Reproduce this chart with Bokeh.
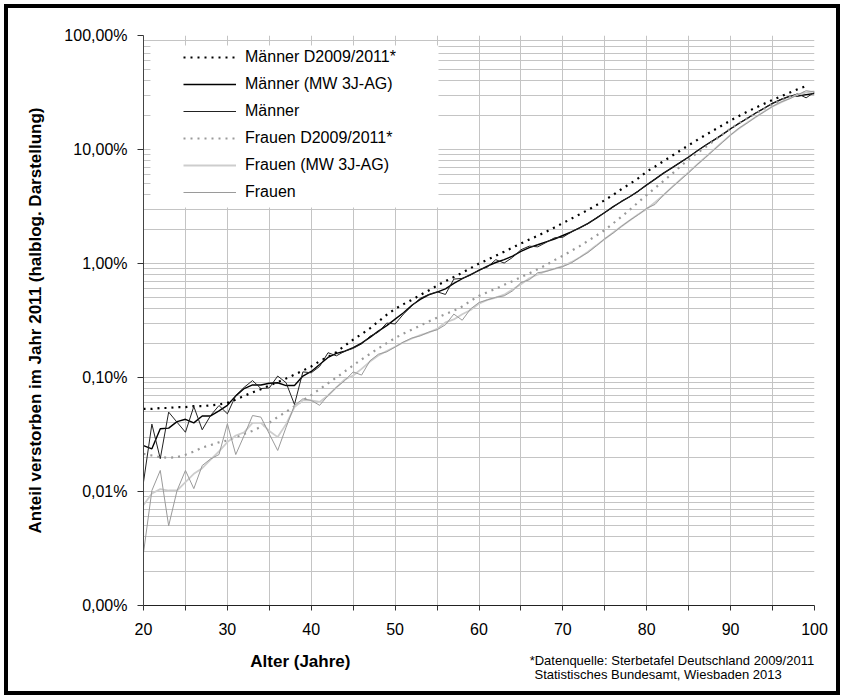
from bokeh.plotting import figure
from bokeh.models import FixedTicker, Legend, LegendItem, BoxAnnotation, LinearAxis
from bokeh.embed import file_html
from bokeh.resources import INLINE

ages = list(range(20, 101))
ages_tafel = list(range(20, 100))

maenner_tafel = [0.053, 0.053, 0.054, 0.054, 0.055, 0.055, 0.056, 0.056, 0.057, 0.058,
                 0.060, 0.064, 0.069, 0.074, 0.079, 0.085, 0.091, 0.098, 0.106, 0.115,
                 0.125, 0.139, 0.152, 0.167, 0.190, 0.215, 0.240, 0.270, 0.310, 0.355,
                 0.400, 0.440, 0.480, 0.530, 0.580, 0.640, 0.700, 0.760, 0.830, 0.910,
                 1.000, 1.080, 1.170, 1.270, 1.380, 1.500, 1.620, 1.750, 1.900, 2.070,
                 2.260, 2.470, 2.700, 2.950, 3.250, 3.600, 4.000, 4.500, 5.000, 5.600,
                 6.400, 7.100, 7.900, 8.800, 9.800, 10.90, 12.10, 13.40, 14.80, 16.30,
                 18.00, 19.70, 21.50, 23.30, 25.20, 27.20, 29.30, 31.50, 33.80, 36.00]

maenner_mw = [0.0253, 0.0237, 0.0355, 0.036, 0.041, 0.043, 0.040, 0.046, 0.046, 0.051,
              0.057, 0.069, 0.080, 0.086, 0.086, 0.089, 0.090, 0.085, 0.085, 0.103,
              0.113, 0.130, 0.150, 0.163, 0.170, 0.183, 0.200, 0.225, 0.255, 0.285,
              0.325, 0.370, 0.430, 0.485, 0.530, 0.560, 0.600, 0.670, 0.735, 0.800,
              0.870, 0.950, 1.020, 1.080, 1.160, 1.280, 1.380, 1.460, 1.550, 1.640,
              1.760, 1.890, 2.050, 2.250, 2.500, 2.800, 3.150, 3.500, 3.870, 4.320,
              4.900, 5.500, 6.200, 6.900, 7.700, 8.600, 9.700, 10.90, 12.10, 13.50,
              15.20, 16.90, 18.80, 20.90, 23.00, 25.40, 27.40, 29.20, 29.50, 30.30,
              31.00]

maenner = [0.0121, 0.039, 0.0194, 0.0497, 0.0405, 0.0331, 0.0557, 0.0348, 0.0464, 0.0568,
           0.048, 0.0695, 0.082, 0.094, 0.080, 0.081, 0.103, 0.090, 0.058, 0.112,
           0.110, 0.125, 0.165, 0.155, 0.170, 0.180, 0.197, 0.230, 0.250, 0.300,
           0.295, 0.360, 0.425, 0.495, 0.535, 0.565, 0.535, 0.730, 0.740, 0.790,
           0.880, 0.930, 1.080, 1.010, 1.130, 1.320, 1.420, 1.400, 1.530, 1.680,
           1.700, 1.890, 2.060, 2.230, 2.520, 2.800, 3.130, 3.520, 3.850, 4.320,
           4.880, 5.520, 6.180, 6.920, 7.680, 8.600, 9.720, 10.85, 12.15, 13.40,
           15.20, 17.10, 18.70, 20.90, 23.10, 25.40, 27.60, 29.20, 30.80, 28.40,
           31.80]

frauen_tafel = [0.0214, 0.0207, 0.0200, 0.0198, 0.0200, 0.0210, 0.0224, 0.0243, 0.0255, 0.0270,
                0.0280, 0.0300, 0.0320, 0.0340, 0.0370, 0.0400, 0.0450, 0.0500, 0.0560, 0.0630,
                0.070, 0.079, 0.089, 0.100, 0.113, 0.128, 0.144, 0.161, 0.180, 0.200,
                0.222, 0.243, 0.263, 0.285, 0.310, 0.335, 0.360, 0.385, 0.420, 0.470,
                0.520, 0.560, 0.600, 0.650, 0.700, 0.760, 0.820, 0.890, 0.970, 1.070,
                1.170, 1.290, 1.420, 1.580, 1.760, 1.970, 2.250, 2.580, 2.970, 3.450,
                4.000, 4.600, 5.300, 6.100, 7.100, 8.200, 9.300, 10.50, 11.90, 13.50,
                15.30, 17.00, 18.80, 20.70, 22.80, 25.00, 27.00, 28.80, 30.40, 31.80]

frauen_mw = [0.0076, 0.0096, 0.0105, 0.0102, 0.0102, 0.0121, 0.0143, 0.016, 0.019, 0.0225,
             0.0271, 0.031, 0.033, 0.040, 0.040, 0.034, 0.030, 0.039, 0.055, 0.063,
             0.063, 0.061, 0.0695, 0.082, 0.096, 0.104, 0.119, 0.138, 0.156, 0.171,
             0.186, 0.204, 0.220, 0.235, 0.248, 0.267, 0.304, 0.323, 0.359, 0.391,
             0.445, 0.480, 0.502, 0.533, 0.592, 0.658, 0.743, 0.800, 0.860, 0.897,
             0.950, 1.027, 1.130, 1.270, 1.443, 1.643, 1.873, 2.123, 2.400, 2.710,
             3.010, 3.450, 3.983, 4.683, 5.433, 6.333, 7.367, 8.583, 9.967, 11.60,
             13.43, 15.30, 17.27, 19.27, 21.53, 23.80, 25.93, 28.03, 30.27, 31.67,
             32.40]

frauen = [0.0029, 0.0102, 0.0153, 0.0050, 0.0102, 0.0153, 0.0106, 0.0169, 0.0193, 0.0211,
          0.0393, 0.0211, 0.031, 0.0464, 0.0449, 0.032, 0.0229, 0.0366, 0.0568, 0.065,
          0.063, 0.057, 0.0695, 0.082, 0.094, 0.112, 0.105, 0.140, 0.160, 0.168,
          0.185, 0.205, 0.222, 0.232, 0.250, 0.262, 0.290, 0.360, 0.318, 0.400,
          0.455, 0.480, 0.505, 0.520, 0.575, 0.680, 0.720, 0.830, 0.850, 0.900,
          0.940, 1.010, 1.130, 1.250, 1.430, 1.650, 1.850, 2.120, 2.400, 2.680,
          3.050, 3.300, 4.000, 4.650, 5.400, 6.250, 7.350, 8.500, 9.900, 11.50,
          13.40, 15.40, 17.10, 19.30, 21.40, 23.90, 26.10, 27.80, 30.20, 32.80,
          32.00]

y_ticks = [0.001, 0.01, 0.1, 1, 10, 100]
y_tick_labels = ["0,00%", "0,01%", "0,10%", "1,00%", "10,00%", "100,00%"]
x_ticks = list(range(20, 101, 5))
x_tick_labels = [str(t) if t % 10 == 0 else "" for t in x_ticks]

x_title = "Alter (Jahre)"
y_title = "Anteil verstorben im Jahr 2011 (halblog. Darstellung)"
source_line1 = "*Datenquelle: Sterbetafel Deutschland 2009/2011"
source_line2 = "Statistisches Bundesamt, Wiesbaden 2013"

FONT = "Liberation Sans"
GRID = "#c4c4c4"

p = figure(width=844, height=699, frame_width=671, frame_height=570,
           min_border_left=143, min_border_right=30, min_border_top=35, min_border_bottom=94,
           x_range=(20, 100), y_range=(0.001, 100), y_axis_type="log",
           output_backend="svg", toolbar_location=None)
p.outline_line_color = None
p.background_fill_color = "white"
p.border_fill_color = "white"
p.border_fill_alpha = 0
# black picture frame around the whole chart (shows through the transparent border area)
p.styles = {"background-color": "white",
            "box-shadow": "inset 0 0 0 4px white, inset 0 0 0 8px black"}

xax = p.xaxis[0]
yax = p.yaxis[0]

minor = [m * 10.0 ** e for e in range(-3, 2) for m in range(2, 10)]
yax.ticker = FixedTicker(ticks=y_ticks, minor_ticks=minor)
yax.major_label_overrides = dict(zip(y_ticks, y_tick_labels))
xax.ticker = FixedTicker(ticks=x_ticks)
xax.major_label_overrides = dict(zip(x_ticks, x_tick_labels))

for ax in (xax, yax):
    ax.major_label_text_font = FONT
    ax.major_label_text_font_size = "16px"
    ax.major_label_text_color = "black"
    ax.minor_tick_line_color = None
    ax.major_tick_in = 0
    ax.major_tick_line_color = "#333333"
yax.major_tick_out = 6
yax.major_label_standoff = 10
yax.axis_line_color = "#444444"
xax.major_tick_out = 5
xax.major_label_standoff = 12
xax.axis_line_color = "#222222"

yax.axis_label = y_title
yax.axis_label_text_font = FONT
yax.axis_label_text_font_style = "bold"
yax.axis_label_text_font_size = "17px"
yax.axis_label_text_color = "black"
yax.axis_label_standoff = 16

p.xgrid.grid_line_color = GRID
p.ygrid.grid_line_color = GRID
p.ygrid.minor_grid_line_color = GRID


def text_axis(tick, text, size, style, standoff):
    ax = LinearAxis(ticker=FixedTicker(ticks=[tick]),
                    major_label_overrides={tick: text},
                    major_label_text_font=FONT, major_label_text_font_size=size,
                    major_label_text_font_style=style, major_label_text_color="black",
                    major_label_standoff=standoff, major_tick_out=0, major_tick_in=0,
                    major_tick_line_color=None, minor_tick_line_color=None,
                    axis_line_color=None)
    p.add_layout(ax, "below")
    return ax


# bottom texts placed on extra label-only axes (footnote line 1, x title, footnote line 2)
text_axis(83.0, source_line1, "13px", "normal", 15)
text_axis(38.7, x_title, "17px", "bold", -19)
text_axis(81.35, source_line2, "13px", "normal", -7)

# white legend panel
p.add_layout(BoxAnnotation(left=20.83, right=55.17, top=81.7, bottom=3.1,
                           fill_color="white", fill_alpha=1, line_color=None))

r_mt = p.line(ages_tafel, maenner_tafel, line_color="black", line_width=2.2, line_dash="2 5")
r_mm = p.line(ages, maenner_mw, line_color="black", line_width=1.4)
r_m = p.line(ages, maenner, line_color="#222222", line_width=1)
r_ft = p.line(ages_tafel, frauen_tafel, line_color="#9a9a9a", line_width=2.2, line_dash="2 5")
r_fm = p.line(ages, frauen_mw, line_color="#cdcdcd", line_width=1.8)
r_f = p.line(ages, frauen, line_color="#9a9a9a", line_width=1)

legend = Legend(items=[
    LegendItem(label="Männer D2009/2011*", renderers=[r_mt]),
    LegendItem(label="Männer (MW 3J-AG)", renderers=[r_mm]),
    LegendItem(label="Männer", renderers=[r_m]),
    LegendItem(label="Frauen D2009/2011*", renderers=[r_ft]),
    LegendItem(label="Frauen (MW 3J-AG)", renderers=[r_fm]),
    LegendItem(label="Frauen", renderers=[r_f]),
], location=(40, 403), glyph_width=53, glyph_height=20, label_height=20, spacing=7,
   padding=0, margin=0, label_standoff=9, background_fill_alpha=0, border_line_alpha=0,
   label_text_font=FONT, label_text_font_size="16px", label_text_color="black")
p.add_layout(legend)

open("out.html", "w").write(file_html(p, INLINE))
